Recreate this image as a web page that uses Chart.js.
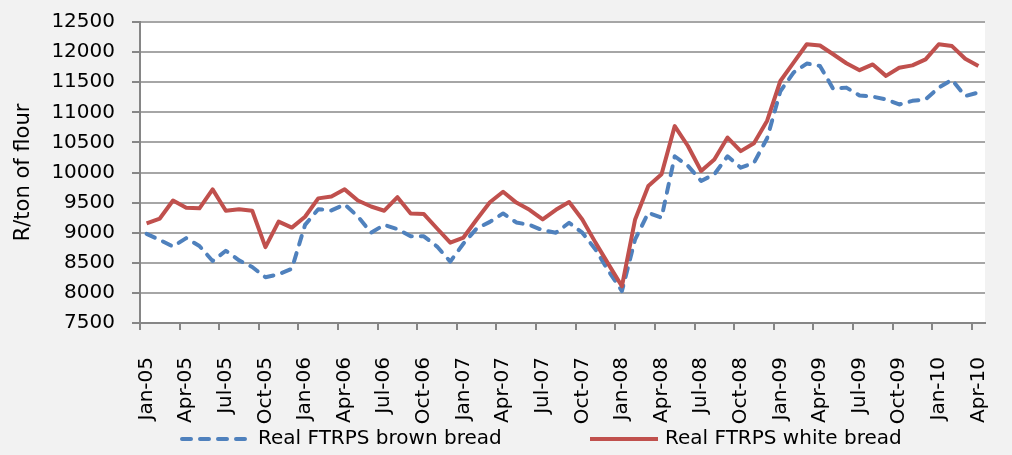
<!DOCTYPE html>
<html>
<head>
<meta charset="utf-8">
<script src="https://cdn.jsdelivr.net/npm/chart.js@4.4.1/dist/chart.umd.min.js"></script>
<style>
  html, body { margin: 0; padding: 0; background: #f2f2f2; }
  #wrap { width: 1012px; height: 455px; position: relative; }
</style>
</head>
<body>
<div id="wrap"><canvas id="c" width="1012" height="455"></canvas></div>
<script>
const months = [
  "Jan-05","Feb-05","Mar-05","Apr-05","May-05","Jun-05","Jul-05","Aug-05","Sep-05","Oct-05","Nov-05","Dec-05",
  "Jan-06","Feb-06","Mar-06","Apr-06","May-06","Jun-06","Jul-06","Aug-06","Sep-06","Oct-06","Nov-06","Dec-06",
  "Jan-07","Feb-07","Mar-07","Apr-07","May-07","Jun-07","Jul-07","Aug-07","Sep-07","Oct-07","Nov-07","Dec-07",
  "Jan-08","Feb-08","Mar-08","Apr-08","May-08","Jun-08","Jul-08","Aug-08","Sep-08","Oct-08","Nov-08","Dec-08",
  "Jan-09","Feb-09","Mar-09","Apr-09","May-09","Jun-09","Jul-09","Aug-09","Sep-09","Oct-09","Nov-09","Dec-09",
  "Jan-10","Feb-10","Mar-10","Apr-10"
];

const brownBread = [
  8980, 8880, 8770, 8910, 8780, 8530, 8700, 8540, 8430, 8260, 8310, 8400,
  9130, 9390, 9370, 9470, 9270, 9000, 9130, 9060, 8940, 8940, 8770, 8520,
  8820, 9070, 9180, 9320, 9170, 9130, 9040, 9000, 9165, 9000, 8720, 8360,
  8030, 8890, 9330, 9250, 10270, 10110, 9860, 9970, 10270, 10080, 10160, 10570,
  11350, 11660, 11810, 11770, 11390, 11410, 11280, 11260, 11215, 11130, 11190, 11215,
  11410, 11540, 11270, 11330
];

const whiteBread = [
  9155, 9235, 9535, 9415, 9405, 9720, 9365, 9390, 9365, 8760, 9185, 9085,
  9265, 9570, 9600, 9720, 9535, 9435, 9365, 9590, 9320, 9310, 9070, 8835,
  8920, 9220, 9505, 9680, 9500, 9380, 9220, 9380, 9510, 9220, 8835, 8470,
  8110, 9220, 9775, 9970, 10770, 10440, 10025, 10215, 10580, 10355, 10485, 10860,
  11520, 11825, 12130, 12110, 11965, 11815, 11700, 11795, 11605, 11740, 11780, 11880,
  12130, 12100, 11890, 11770
];

const seriesNames = ["Real FTRPS brown bread", "Real FTRPS white bread"];
const yTicks = { min: 7500, max: 12500, step: 500 };
const yTitle = "R/ton of flour";

const FONT = "'DejaVu Sans', sans-serif";

const bgPlugin = {
  id: 'bg',
  beforeDraw(chart) {
    const { ctx, chartArea: a } = chart;
    ctx.save();
    ctx.fillStyle = '#f2f2f2';
    ctx.fillRect(0, 0, chart.width, chart.height);
    ctx.fillStyle = '#ffffff';
    ctx.fillRect(a.left, a.top, a.right - a.left, a.bottom - a.top);
    ctx.restore();
  }
};

const legendPlugin = {
  id: 'customLegend',
  afterDraw(chart) {
    const { ctx } = chart;
    const items = [
      { ds: chart.data.datasets[0], x0: 182, x1: 251, tx: 258 },
      { ds: chart.data.datasets[1], x0: 590, x1: 658, tx: 665 }
    ];
    const y = 439;
    ctx.save();
    items.forEach(it => {
      ctx.beginPath();
      ctx.strokeStyle = it.ds.borderColor;
      ctx.lineWidth = it.ds.borderWidth;
      ctx.lineCap = it.ds.borderCapStyle || 'butt';
      ctx.setLineDash(it.ds.borderDash || []);
      ctx.moveTo(it.x0, y);
      ctx.lineTo(it.x1, y);
      ctx.stroke();
      ctx.setLineDash([]);
      ctx.fillStyle = '#000';
      ctx.font = "20px " + FONT;
      ctx.textBaseline = 'middle';
      ctx.textAlign = 'left';
      ctx.fillText(it.ds.label, it.tx, y);
    });
    ctx.restore();
  }
};

new Chart(document.getElementById('c'), {
  type: 'line',
  data: {
    labels: months,
    datasets: [
      {
        label: seriesNames[0],
        data: brownBread,
        borderColor: '#4f81bd',
        backgroundColor: '#4f81bd',
        borderWidth: 4,
        borderDash: [9, 9],
        borderCapStyle: 'round',
        borderJoinStyle: 'round',
        pointRadius: 0,
        tension: 0,
        fill: false,
        order: 1
      },
      {
        label: seriesNames[1],
        data: whiteBread,
        borderColor: '#c0504d',
        backgroundColor: '#c0504d',
        borderWidth: 4,
        borderCapStyle: 'butt',
        borderJoinStyle: 'round',
        pointRadius: 0,
        tension: 0,
        fill: false,
        order: 0
      }
    ]
  },
  options: {
    responsive: false,
    animation: false,
    devicePixelRatio: 1,
    layout: { padding: { top: 22, right: 27, left: 0, bottom: 0 } },
    plugins: {
      legend: { display: false },
      tooltip: { enabled: false }
    },
    scales: {
      x: {
        type: 'category',
        offset: true,
        afterFit(scale) {
          scale.height = 132;
          scale.paddingLeft = 0;
          scale.paddingRight = 0;
        },
        grid: {
          offset: true,
          drawOnChartArea: false,
          drawTicks: true,
          tickLength: 7,
          lineWidth: 2,
          color: (c) => (c.index % 3 === 0 ? '#868686' : 'rgba(0,0,0,0)'),
          tickColor: (c) => (c.index % 3 === 0 ? '#868686' : 'rgba(0,0,0,0)')
        },
        border: { display: true, color: '#868686', width: 2 },
        ticks: {
          autoSkip: false,
          minRotation: 90,
          maxRotation: 90,
          padding: 27,
          color: '#000',
          font: { family: FONT, size: 20 },
          callback: function (value, index) {
            return index % 3 === 0 ? this.getLabelForValue(value) : '';
          }
        }
      },
      y: {
        min: yTicks.min,
        max: yTicks.max,
        afterFit(scale) {
          scale.width = 140;
          scale.paddingTop = 0;
          scale.paddingBottom = 0;
        },
        grid: {
          color: '#a6a6a6',
          lineWidth: 2,
          drawTicks: true,
          tickLength: 8,
          tickColor: '#868686'
        },
        border: { display: true, color: '#868686', width: 2 },
        ticks: {
          stepSize: yTicks.step,
          padding: 17,
          color: '#000',
          font: { family: FONT, size: 20 },
          callback: (v) => String(v)
        },
        title: {
          display: true,
          text: yTitle,
          color: '#000',
          font: { family: FONT, size: 21 },
          padding: { top: 11, bottom: 0 }
        }
      }
    }
  },
  plugins: [bgPlugin, legendPlugin]
});
</script>
</body>
</html>
